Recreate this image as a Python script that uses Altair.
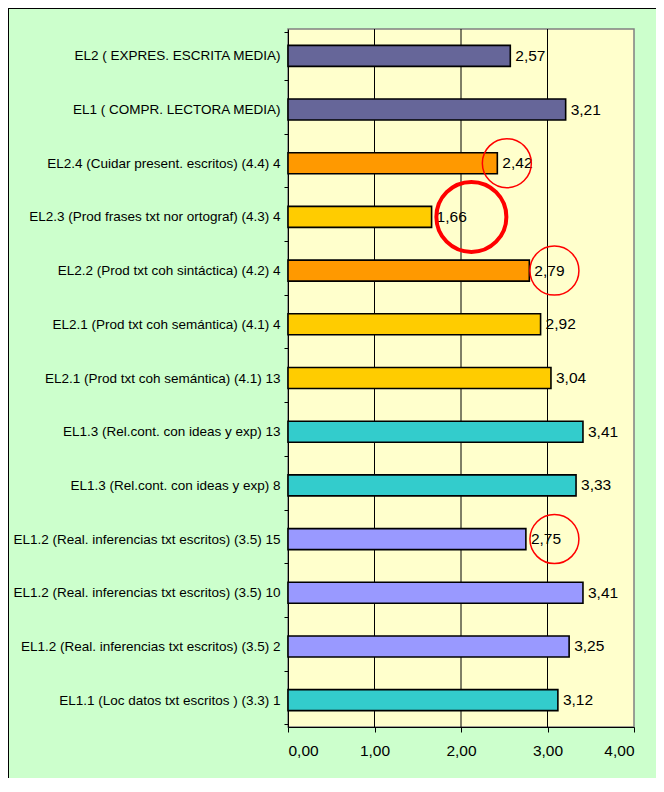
import altair as alt
import pandas as pd

categories = [
    "EL2 ( EXPRES. ESCRITA MEDIA)",
    "EL1 ( COMPR. LECTORA MEDIA)",
    "EL2.4 (Cuidar present. escritos) (4.4)  4",
    "EL2.3 (Prod frases txt nor ortograf) (4.3)  4",
    "EL2.2 (Prod txt coh sintáctica) (4.2)  4",
    "EL2.1 (Prod txt coh semántica) (4.1)  4",
    "EL2.1 (Prod txt coh semántica) (4.1) 13",
    "EL1.3 (Rel.cont. con ideas y exp) 13",
    "EL1.3 (Rel.cont. con ideas y exp)  8",
    "EL1.2 (Real. inferencias txt escritos) (3.5) 15",
    "EL1.2 (Real. inferencias txt escritos) (3.5) 10",
    "EL1.2 (Real. inferencias txt escritos) (3.5)  2",
    "EL1.1 (Loc datos txt escritos ) (3.3)  1",
]
values = [2.57, 3.21, 2.42, 1.66, 2.79, 2.92, 3.04, 3.41, 3.33, 2.75, 3.41, 3.25, 3.12]
colors = ["#666699", "#666699", "#FF9900", "#FFCC00", "#FF9900", "#FFCC00", "#FFCC00",
          "#33CCCC", "#33CCCC", "#9999FF", "#9999FF", "#9999FF", "#33CCCC"]
x_ticks = [0, 1, 2, 3, 4]
grid_values = [1, 2, 3]

# red hand-drawn circle annotations (category, x position)
small_circle_cats = [categories[2], categories[4], categories[9]]
small_circle_x = [2.53, 3.08, 3.08]
big_circle_cats = [categories[3]]
big_circle_x = [2.12]

FONT = "Liberation Sans, Arial, sans-serif"

df = pd.DataFrame({"cat": categories, "val": values, "color": colors})
grid_df = pd.DataFrame({"g": grid_values})
small_df = pd.DataFrame({"cat": small_circle_cats, "x": small_circle_x})
big_df = pd.DataFrame({"cat": big_circle_cats, "x": big_circle_x})

y_enc = alt.Y(
    "cat:N",
    sort=categories,
    title=None,
    scale=alt.Scale(domain=categories),
    axis=alt.Axis(
        labelFont=FONT, labelFontSize=13.5, labelColor="black", labelLimit=400,
        labelPadding=4, tickBand="extent", tickSize=4, tickColor="black",
        domainColor="black", domainWidth=1, grid=False,
    ),
)
x_scale = alt.Scale(domain=[0, 4], nice=False)

grid = alt.Chart(grid_df).mark_rule(color="black", strokeWidth=1).encode(
    x=alt.X("g:Q", scale=x_scale,
            axis=alt.Axis(values=x_ticks, title=None, grid=False,
                          labelExpr="replace(format(datum.value, '.2f'), '.', ',')",
                          labelFont=FONT, labelFontSize=15.5, labelColor="black",
                          labelPadding=11, tickSize=5, tickColor="black",
                          domainColor="black", domainWidth=1)),
)

bars = alt.Chart(df).mark_bar(size=21, stroke="black", strokeWidth=1.6).encode(
    x=alt.X("val:Q", scale=x_scale),
    y=y_enc,
    color=alt.Color("color:N", scale=None, legend=None),
)

labels = alt.Chart(df).transform_calculate(
    txt="replace(format(datum.val, '.2f'), '.', ',')"
).mark_text(align="left", baseline="middle", dx=5, font=FONT, fontSize=15.5, color="black").encode(
    x=alt.X("val:Q", scale=x_scale),
    y=alt.Y("cat:N", sort=categories),
    text="txt:N",
)

small_circles = alt.Chart(small_df).mark_point(
    shape="circle", filled=False, color="#FF0000", strokeWidth=1.5, size=2400, opacity=1
).encode(
    x=alt.X("x:Q", scale=x_scale),
    y=alt.Y("cat:N", sort=categories),
)

big_circles = alt.Chart(big_df).mark_point(
    shape="circle", filled=False, color="#FF0000", strokeWidth=4, size=4900, opacity=1
).encode(
    x=alt.X("x:Q", scale=x_scale),
    y=alt.Y("cat:N", sort=categories),
)

border = alt.Chart(grid_df).mark_rule(color="black", strokeWidth=1).encode(
    x=alt.value(-279.5), y=alt.value(-20.5), y2=alt.value(749)
)
border_top = alt.Chart(grid_df).mark_rule(color="black", strokeWidth=1).encode(
    x=alt.value(-279.5), x2=alt.value(368), y=alt.value(-20.5)
)

chart = alt.layer(grid, bars, labels, small_circles, big_circles, border, border_top).properties(
    width=346,
    height=698,
    background="#CCFFCC",
    padding={"left": 280, "top": 21, "right": 22, "bottom": 51},
    autosize=alt.AutoSizeParams(type="none"),
).configure_view(
    fill="#FFFFCC", stroke="#808080", strokeWidth=1.5
)

chart.save("out.html", embed_options={"renderer": "svg", "actions": False})
